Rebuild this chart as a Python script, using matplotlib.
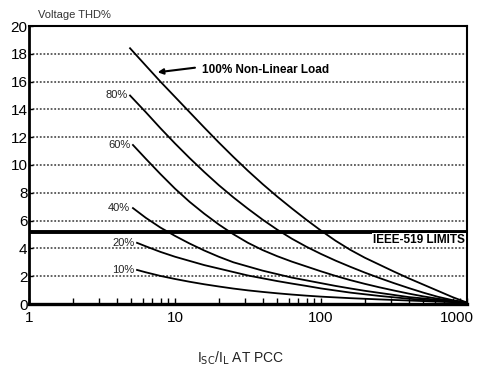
import matplotlib
matplotlib.use("Agg")
import matplotlib.pyplot as plt
import matplotlib.transforms as mtransforms

plt.rcParams['font.family'] = ['Liberation Sans Narrow', 'Liberation Sans', 'DejaVu Sans']

# Short-circuit ratio (log10 of Isc/IL) and voltage THD % for each load level
load_labels = ["100%", "80%", "60%", "40%", "20%", "10%"]

log_ratio_100 = [0.692, 0.8, 0.9, 1.0, 1.1, 1.2, 1.3, 1.4, 1.5, 1.6, 1.7, 1.8,
                 1.9, 2.0, 2.1, 2.2, 2.3, 2.4, 2.5, 2.6, 2.7, 2.8, 2.9, 3.0]
thd_100 = [18.4, 17.15, 16.0, 14.9, 13.8, 12.7, 11.62, 10.58, 9.58, 8.63, 7.73, 6.88,
           6.06, 5.28, 4.55, 3.9, 3.33, 2.83, 2.33, 1.85, 1.4, 0.95, 0.5, 0.1]

log_ratio_80 = [0.692, 0.8, 0.9, 1.0, 1.1, 1.2, 1.3, 1.4, 1.5, 1.6, 1.7, 1.8,
                1.9, 2.0, 2.1, 2.2, 2.3, 2.4, 2.5, 2.6, 2.7, 2.8, 2.9, 3.0]
thd_80 = [15.0, 13.8, 12.65, 11.55, 10.5, 9.5, 8.55, 7.67, 6.85, 6.07, 5.35, 4.7,
          4.12, 3.6, 3.12, 2.68, 2.26, 1.87, 1.5, 1.15, 0.82, 0.52, 0.28, 0.1]

log_ratio_60 = [0.712, 0.8, 0.9, 1.0, 1.1, 1.2, 1.3, 1.4, 1.5, 1.6, 1.7, 1.8,
                1.9, 2.0, 2.1, 2.2, 2.3, 2.4, 2.5, 2.6, 2.7, 2.8, 2.9, 3.0]
thd_60 = [11.44, 10.45, 9.35, 8.3, 7.35, 6.5, 5.72, 5.02, 4.4, 3.88, 3.44, 3.05,
          2.7, 2.35, 2.02, 1.72, 1.45, 1.2, 0.97, 0.75, 0.55, 0.38, 0.23, 0.1]

log_ratio_40 = [0.712, 0.8, 0.9, 1.0, 1.1, 1.2, 1.3, 1.4, 1.5, 1.6, 1.7, 1.8,
                1.9, 2.0, 2.1, 2.2, 2.3, 2.4, 2.5, 2.6, 2.7, 2.8, 2.9, 3.0]
thd_40 = [6.9, 6.2, 5.5, 4.9, 4.35, 3.85, 3.4, 3.0, 2.7, 2.4, 2.15, 1.9,
          1.7, 1.5, 1.3, 1.12, 0.95, 0.8, 0.65, 0.5, 0.4, 0.3, 0.2, 0.1]

log_ratio_20 = [0.74, 0.8, 0.9, 1.0, 1.1, 1.2, 1.3, 1.4, 1.5, 1.6, 1.7, 1.8,
                1.9, 2.0, 2.1, 2.2, 2.3, 2.4, 2.5, 2.6, 2.7, 2.8, 2.9, 3.0]
thd_20 = [4.4, 4.15, 3.75, 3.4, 3.1, 2.8, 2.55, 2.3, 2.05, 1.85, 1.65, 1.47,
          1.3, 1.12, 0.97, 0.82, 0.7, 0.58, 0.48, 0.38, 0.3, 0.23, 0.16, 0.1]

log_ratio_10 = [0.74, 0.8, 0.9, 1.0, 1.1, 1.2, 1.3, 1.4, 1.5, 1.6, 1.7, 1.8,
                1.9, 2.0, 2.2, 2.4, 2.6, 2.8, 3.0]
thd_10 = [2.45, 2.28, 2.02, 1.8, 1.6, 1.42, 1.26, 1.11, 0.98, 0.87, 0.77, 0.68,
          0.6, 0.53, 0.42, 0.33, 0.25, 0.17, 0.1]

ieee_limit = 5.2
y_ticks = list(range(0, 21, 2))
x_ticks = [1, 10, 100, 1000]
x_tick_labels = ["1", "10", "100", "1000"]

series = [
    (log_ratio_100, thd_100),
    (log_ratio_80, thd_80),
    (log_ratio_60, thd_60),
    (log_ratio_40, thd_40),
    (log_ratio_20, thd_20),
    (log_ratio_10, thd_10),
]

fig = plt.figure(figsize=(4.8, 3.72), dpi=100, facecolor="white")
ax = fig.add_axes([29 / 480, 68 / 372, 438 / 480, 278 / 372])
ax.set_facecolor("white")

ax.set_xscale("log")
ax.set_xlim(1, 1000)
ax.set_ylim(0, 20)

# dotted horizontal grid
for yv in y_ticks[1:-1]:
    ax.axhline(yv, color="#555555", lw=1.3, ls=(0, (1, 1)), zorder=1)

# IEEE-519 limit line
ax.axhline(ieee_limit, color="black", lw=2.8, zorder=3)
ax.text(0.995, 4.6, "IEEE-519 LIMITS", transform=ax.get_yaxis_transform(),
        ha="right", va="center", fontsize=8.5, fontweight="bold",
        bbox=dict(facecolor="white", edgecolor="none", pad=0.5), zorder=4)

for name, (lx, yv) in zip(load_labels, series):
    xv = [10 ** v for v in lx]
    ax.plot(xv, yv, color="black", lw=1.3, zorder=5, solid_joinstyle="round")
    if name != "100%":
        ax.annotate(name, (xv[0], yv[0]), xytext=(-2, 0), textcoords="offset points",
                    ha="right", va="center", fontsize=8, color="#222222")

ax.annotate("", xy=(7.6, 16.67), xytext=(13.7, 17.0),
            arrowprops=dict(arrowstyle="-|>", color="black", lw=1.5,
                            mutation_scale=8, shrinkA=0, shrinkB=0), zorder=6)
ax.text(15.3, 16.83, "100% Non-Linear Load", ha="left", va="center",
        fontsize=8.5, fontweight="bold", zorder=6)

ax.set_yticks(y_ticks)
ax.set_yticklabels([str(v) for v in y_ticks])
ax.set_xticks(x_ticks)
ax.set_xticklabels(x_tick_labels)
minor = [m * d for d in (1, 10, 100) for m in range(2, 10)]
ax.set_xticks(minor, minor=True)
ax.set_xticklabels([], minor=True)

ax.tick_params(axis="y", direction="in", length=3, width=1, labelsize=11, pad=1)
ax.tick_params(axis="x", which="major", direction="in", length=4, width=1,
               labelsize=11, pad=5)
ax.tick_params(axis="x", which="minor", direction="in", length=4, width=1)

# keep the last x label inside the canvas
last = ax.get_xticklabels()[-1]
last.set_transform(last.get_transform() +
                   mtransforms.ScaledTranslation(-10 / 100, 0, fig.dpi_scale_trans))

for side, lw in (("left", 2.0), ("bottom", 2.4), ("top", 1.5), ("right", 1.5)):
    ax.spines[side].set_linewidth(lw)
    ax.spines[side].set_color("black")

fig.text(38 / 480, 1 - 15 / 372, "Voltage THD%", ha="left", va="center", fontsize=8,
         color="#333333")
fig.text(241 / 480, 1 - 358 / 372, r"I$_{\mathrm{SC}}$/I$_{\mathrm{L}}$ AT PCC",
         ha="center", va="center", fontsize=10, color="#222222")

fig.savefig("out.png", dpi=100, facecolor="white")
